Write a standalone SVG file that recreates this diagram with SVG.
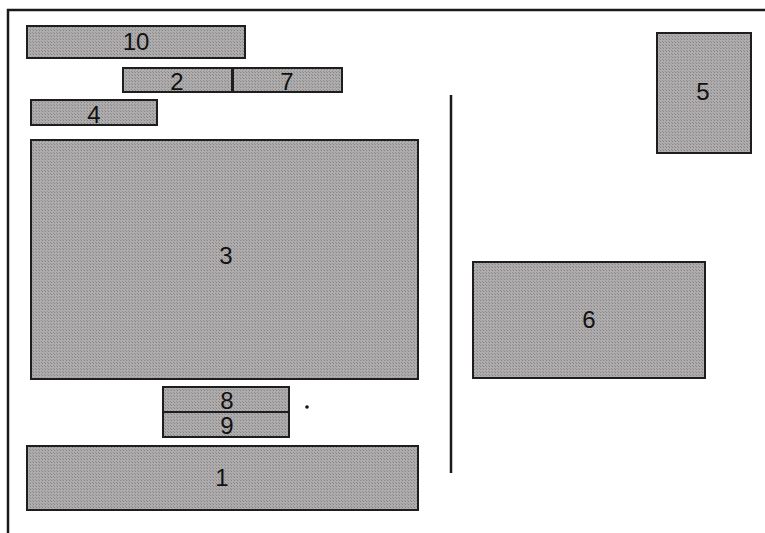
<svg xmlns="http://www.w3.org/2000/svg" width="765" height="533" viewBox="0 0 765 533">
<defs>
<pattern id="hatch" width="3" height="3" patternUnits="userSpaceOnUse">
<rect width="3" height="3" fill="#aeacac"/>
<rect width="1" height="1" fill="#858383"/>
<rect x="2" y="2" width="1" height="1" fill="#929090"/>
</pattern>
</defs>
<style>
.box{fill:url(#hatch);stroke:#1e1e1e;stroke-width:2}
.lbl{font-family:"Liberation Sans",Arial,sans-serif;font-size:24px;fill:#111;text-anchor:middle}
.ln{stroke:#1a1a1a;stroke-width:2.5;fill:none}
</style>
<rect width="765" height="533" fill="#fff"/>
<g id="frame"><path class="ln" d="M8,540 V10 H770"/></g>
<g id="n10"><rect class="box" x="27" y="26" width="218" height="32"/><text class="lbl" x="136" y="50">10</text></g>
<g id="n2"><rect class="box" x="123" y="68" width="109" height="24"/><text class="lbl" x="177" y="90">2</text></g>
<g id="n7"><rect class="box" x="233" y="68" width="109" height="24"/><text class="lbl" x="287" y="90">7</text></g>
<g id="n4"><rect class="box" x="31" y="100" width="126" height="25"/><text class="lbl" x="94" y="123">4</text></g>
<g id="n3"><rect class="box" x="31" y="140" width="387" height="239"/><text class="lbl" x="226" y="264">3</text></g>
<g id="n5"><rect class="box" x="657" y="33" width="94" height="120"/><text class="lbl" x="703" y="100">5</text></g>
<g id="n6"><rect class="box" x="473" y="262" width="232" height="116"/><text class="lbl" x="589" y="328">6</text></g>
<g id="n8"><rect class="box" x="163" y="387" width="126" height="25"/><text class="lbl" x="227" y="409">8</text></g>
<g id="n9"><rect class="box" x="163" y="412" width="126" height="25"/><text class="lbl" x="227" y="434">9</text></g>
<g id="n1"><rect class="box" x="27" y="446" width="391" height="64"/><text class="lbl" x="222" y="486">1</text></g>
<g id="connectors">
<line class="ln" x1="451" y1="95" x2="451" y2="473"/>
<circle cx="307" cy="407" r="1.8" fill="#111"/>
</g>
</svg>
